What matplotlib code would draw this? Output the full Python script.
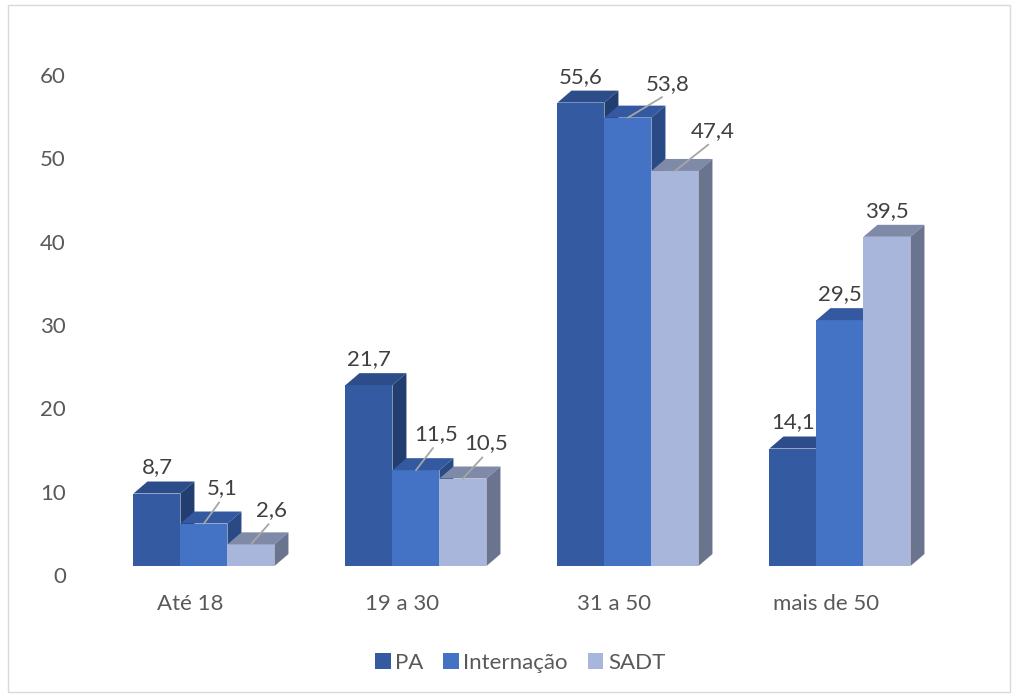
import matplotlib.pyplot as plt
from matplotlib.patches import Polygon, Patch, Rectangle
import numpy as np

categorias = ["Até 18", "19 a 30", "31 a 50", "mais de 50"]
series = ["PA", "Internação", "SADT"]
pa = [8.7, 21.7, 55.6, 14.1]
internacao = [5.1, 11.5, 53.8, 29.5]
sadt = [2.6, 10.5, 47.4, 39.5]
valores = [pa, internacao, sadt]

# cores: frente, topo, lateral
cores = [
    ("#345BA1", "#2C4D8A", "#223E70"),
    ("#4472C4", "#3459A0", "#2A4A85"),
    ("#A8B6DC", "#7F8AA8", "#6A748F"),
]
# deslocamento dos rótulos com linha guia (px para direita, px para cima)
desloc = {
    (1, 0): (18, 35), (1, 1): (20, 36), (1, 2): (40, 34),
    (2, 0): (21, 34), (2, 1): (23, 35), (2, 2): (38, 40),
}

plt.rcParams['font.family'] = ['Lato', 'DejaVu Sans']
cinza = "#595959"

fig = plt.figure(figsize=(10.14, 6.97), dpi=100)
fig.patches.append(Rectangle((8 / 1014, 5 / 697), 1002 / 1014, 687 / 697,
                             transform=fig.transFigure, fill=False,
                             edgecolor="#D9D9D9", lw=1))
ax = fig.add_axes([0.0966, 0.164, 0.8572, 0.7653])
ax.set_xlim(-0.5, 3.6)
ax.set_ylim(-2, 62)

w = 47 / 212
dx = 14 / 212
dy = 12 / 8.334
x = np.arange(len(categorias))

z = 2
for i in range(len(categorias)):
    for s in range(len(series)):
        h = valores[s][i]
        xc = x[i] + (s - 1) * w
        x0, x1 = xc - w / 2, xc + w / 2
        front, top, side = cores[s]
        ax.bar(xc, h, width=w, color=front, lw=0, zorder=z)
        ax.add_patch(Polygon([(x0, h), (x1, h), (x1 + dx, h + dy), (x0 + dx, h + dy)],
                             closed=True, facecolor=top, lw=0, zorder=z))
        ax.add_patch(Polygon([(x1, 0), (x1 + dx, dy), (x1 + dx, h + dy), (x1, h)],
                             closed=True, facecolor=side, lw=0, zorder=z))
        z += 1
        txt = f"{h:.1f}".replace(".", ",")
        if (s, i) in desloc:
            ox, oy = desloc[(s, i)]
            ax.annotate(txt, xy=(xc, h), xytext=(ox * 0.72, oy * 0.72),
                        textcoords="offset points", ha="center", va="center",
                        fontsize=16, color="#404040", zorder=50,
                        arrowprops=dict(arrowstyle="-", color="#A6A6A6", lw=1.3,
                                        relpos=(0.5, 0), shrinkA=1, shrinkB=0))
        else:
            ax.annotate(txt, xy=(xc, h), xytext=(0, 26 * 0.72),
                        textcoords="offset points", ha="center", va="center",
                        fontsize=16, color="#404040", zorder=50)

ax.set_yticks(np.arange(0, 70, 10) - 1.1, [str(v) for v in range(0, 70, 10)])
ax.set_xticks(x - dx, categorias)
ax.tick_params(axis="y", length=0, pad=23, labelsize=16, labelcolor=cinza)
ax.tick_params(axis="x", length=0, pad=8, labelsize=16, labelcolor=cinza)
for sp in ax.spines.values():
    sp.set_visible(False)

handles = [Patch(facecolor=cores[s][0], label=series[s]) for s in range(3)]
fig.legend(handles=handles, loc="center", bbox_to_anchor=(0.513, 0.049), ncol=3,
           frameon=False, fontsize=16, handlelength=0.7, handleheight=0.7,
           handletextpad=0.2, columnspacing=0.9, labelcolor=cinza)

fig.savefig("out.png", dpi=100)
